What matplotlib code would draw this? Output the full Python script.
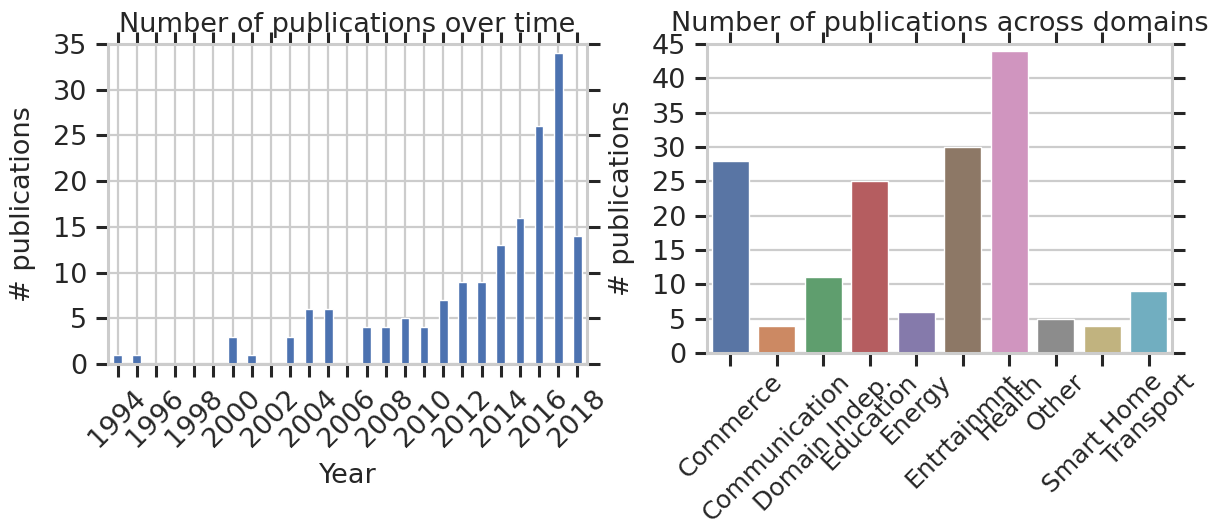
import numpy as np
import matplotlib
matplotlib.use("Agg")
import matplotlib.pyplot as plt
import seaborn as sns

# publications per year
years = list(range(1994, 2019))
year_counts = [1, 1, 0, 0, 0, 0, 3, 1, 0, 3, 6, 6, 0, 4, 4, 5, 4, 7, 9, 9, 13, 16, 26, 34, 14]

# publications per domain
domains = ["Commerce", "Communication", "Domain Indep.", "Education", "Energy",
           "Entrtainmnt", "Health", "Other", "Smart Home", "Transport"]
domain_counts = [28, 4, 11, 25, 6, 30, 44, 5, 4, 9]

sns.set_theme(style="whitegrid")
plt.rcParams.update({
    "font.family": ["DejaVu Sans"],
    "font.size": 19.5,
    "axes.titlesize": 19.5,
    "axes.labelsize": 19.5,
    "xtick.labelsize": 19.5,
    "ytick.labelsize": 19.5,
    "text.color": "#262626",
    "axes.labelcolor": "#262626",
    "xtick.color": "#262626",
    "ytick.color": "#262626",
    "axes.edgecolor": "#cccccc",
    "axes.linewidth": 2.2,
    "grid.color": "#cccccc",
    "grid.linewidth": 1.6,
    "xtick.bottom": True, "xtick.top": True,
    "ytick.left": True, "ytick.right": True,
    "xtick.direction": "out", "ytick.direction": "out",
    "xtick.major.size": 9, "ytick.major.size": 9,
    "xtick.major.width": 2.2, "ytick.major.width": 2.2,
    "xtick.major.pad": 6, "ytick.major.pad": 6,
})

fig = plt.figure(figsize=(12.08, 5.31), dpi=100)
ax1 = fig.add_axes([0.0894, 0.3145, 0.3965, 0.6026])
ax2 = fig.add_axes([0.5853, 0.3352, 0.385, 0.582])

# --- left: publications over time
pos = np.arange(len(years))
ax1.bar(pos, year_counts, width=0.45, color=sns.color_palette("deep")[0],
        edgecolor="white", linewidth=1, zorder=2)
ax1.set_xlim(-0.5, len(years) - 0.5)
ax1.set_ylim(0, 35)
ax1.set_yticks(range(0, 36, 5))
ax1.set_xticks(pos)
ax1.set_xticklabels([str(y) if y % 2 == 0 else "" for y in years], rotation=45)
ax1.grid(True, axis="both")
ax1.set_axisbelow(True)
ax1.set_title("Number of publications over time", y=1.0, pad=9)
ax1.set_xlabel("Year", labelpad=8)
ax1.set_ylabel("# publications", labelpad=12)

# --- right: publications across domains
pal = [sns.desaturate(c, 0.75) for c in sns.color_palette("deep", len(domains))]
dpos = np.arange(len(domains))
ax2.bar(dpos, domain_counts, width=0.8, color=pal, edgecolor="white",
        linewidth=1, zorder=2)
ax2.set_xlim(-0.5, len(domains) - 0.5)
ax2.set_ylim(0, 45)
ax2.set_yticks(range(0, 46, 5))
ax2.set_xticks(dpos)
ax2.set_xticklabels(domains, rotation=45, fontsize=18)
ax2.tick_params(axis="x", pad=3)
ax2.grid(True, axis="y")
ax2.grid(False, axis="x")
ax2.set_axisbelow(True)
ax2.set_title("Number of publications across domains", y=1.0, pad=9)
ax2.set_ylabel("# publications", labelpad=12)

fig.savefig("out.png", dpi=100)
